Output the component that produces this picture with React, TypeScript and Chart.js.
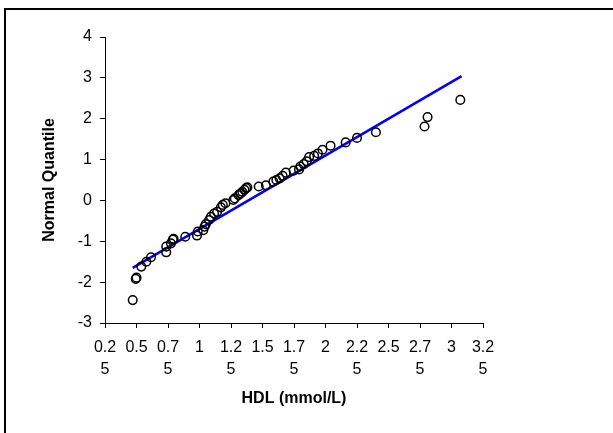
import React, { useEffect, useRef } from "react";
import { Chart, registerables } from "chart.js";

Chart.register(...registerables);

const hdlValues = [
  0.47, 0.494, 0.5, 0.538, 0.578, 0.615, 0.736, 0.736, 0.773, 0.788, 0.795,
  0.887, 0.98, 0.986, 1.03, 1.04, 1.05, 1.076, 1.09, 1.116, 1.14, 1.17, 1.185,
  1.206, 1.268, 1.28, 1.31, 1.325, 1.34, 1.357, 1.37, 1.38, 1.47, 1.527, 1.586,
  1.61, 1.636, 1.66, 1.685, 1.747, 1.79, 1.8, 1.827, 1.85, 1.87, 1.91, 1.94,
  1.976, 2.04, 2.16, 2.25, 2.4, 2.786, 2.81, 3.07,
];
const normalQuantiles = [
  -2.44, -1.92, -1.89, -1.62, -1.5, -1.39, -1.27, -1.13, -1.05, -0.955, -0.94,
  -0.89, -0.86, -0.76, -0.73, -0.64, -0.58, -0.48, -0.4, -0.32, -0.28, -0.17,
  -0.11, -0.07, 0.01, 0.05, 0.13, 0.17, 0.21, 0.26, 0.3, 0.32, 0.34, 0.37, 0.46,
  0.5, 0.54, 0.6, 0.68, 0.73, 0.76, 0.83, 0.89, 0.96, 1.06, 1.09, 1.15, 1.24,
  1.34, 1.42, 1.53, 1.67, 1.81, 2.04, 2.46,
];
const fitLineX = [0.47, 3.08];
const fitLineY = [-1.65, 3.04];

const xMin = 0.25;
const xMax = 3.25;
const xStep = 0.25;
const yMin = -3;
const yMax = 4;
const yStep = 1;

const FONT = "'Liberation Sans', Arial, sans-serif";

export default function App() {
  const ref = useRef<HTMLCanvasElement>(null);

  useEffect(() => {
    if (!ref.current) return;
    const chart = new Chart(ref.current, {
      type: "scatter",
      data: {
        datasets: [
          {
            type: "line",
            data: fitLineX.map((x, i) => ({ x, y: fitLineY[i] })),
            borderColor: "#0000ff",
            borderWidth: 2.6,
            pointRadius: 0,
            fill: false,
            order: 2,
          } as any,
          {
            data: hdlValues.map((x, i) => ({ x, y: normalQuantiles[i] })),
            pointStyle: "circle",
            pointRadius: 4.3,
            pointBorderWidth: 1.5,
            pointBorderColor: "#000",
            pointBackgroundColor: "rgba(0,0,0,0)",
            borderColor: "#000",
            backgroundColor: "rgba(0,0,0,0)",
            order: 1,
          },
        ],
      },
      options: {
        responsive: false,
        animation: false,
        layout: { padding: { left: 36, top: 37, right: 130, bottom: 21 } },
        plugins: { legend: { display: false }, tooltip: { enabled: false } },
        scales: {
          x: {
            type: "linear",
            min: xMin,
            max: xMax,
            afterFit: (s: any) => {
              s.height = 89;
            },
            ticks: {
              stepSize: xStep,
              autoSkip: false,
              maxRotation: 0,
              minRotation: 0,
              padding: 9,
              color: "#000",
              font: { family: FONT, size: 16, lineHeight: 1.375 },
              callback: (v: any) => {
                const s = String(Math.round(Number(v) * 100) / 100);
                return s.length > 3 ? [s.slice(0, 3), s.slice(3)] : s;
              },
            },
            grid: {
              drawOnChartArea: false,
              drawTicks: true,
              tickLength: 5,
              tickColor: "#000",
              color: "#000",
            },
            border: { display: true, color: "#000", width: 1 },
            title: {
              display: true,
              text: "HDL (mmol/L)",
              color: "#000",
              font: { family: FONT, size: 16, weight: "bold" },
            },
          },
          y: {
            type: "linear",
            min: yMin,
            max: yMax,
            afterFit: (s: any) => {
              s.width = 69;
            },
            ticks: {
              stepSize: yStep,
              padding: 8,
              color: "#000",
              font: { family: FONT, size: 16 },
            },
            grid: {
              drawOnChartArea: false,
              drawTicks: true,
              tickLength: 5,
              tickColor: "#000",
              color: "#000",
            },
            border: { display: true, color: "#000", width: 1 },
            title: {
              display: true,
              text: "Normal Quantile",
              color: "#000",
              font: { family: FONT, size: 16, weight: "bold" },
            },
          },
        },
      },
    });
    return () => chart.destroy();
  }, []);

  return (
    <div
      style={{
        position: "fixed",
        left: 0,
        top: 0,
        width: 613,
        height: 433,
        background: "#fff",
        overflow: "hidden",
      }}
    >
      <canvas
        ref={ref}
        width={613}
        height={433}
        style={{ position: "absolute", left: 0, top: 0, width: 613, height: 433 }}
      />
      <div
        style={{
          position: "absolute",
          left: 4,
          top: 8,
          width: 609,
          height: 2,
          background: "#000",
          pointerEvents: "none",
        }}
      />
      <div
        style={{
          position: "absolute",
          left: 4,
          top: 8,
          width: 2,
          height: 425,
          background: "#000",
          pointerEvents: "none",
        }}
      />
    </div>
  );
}
